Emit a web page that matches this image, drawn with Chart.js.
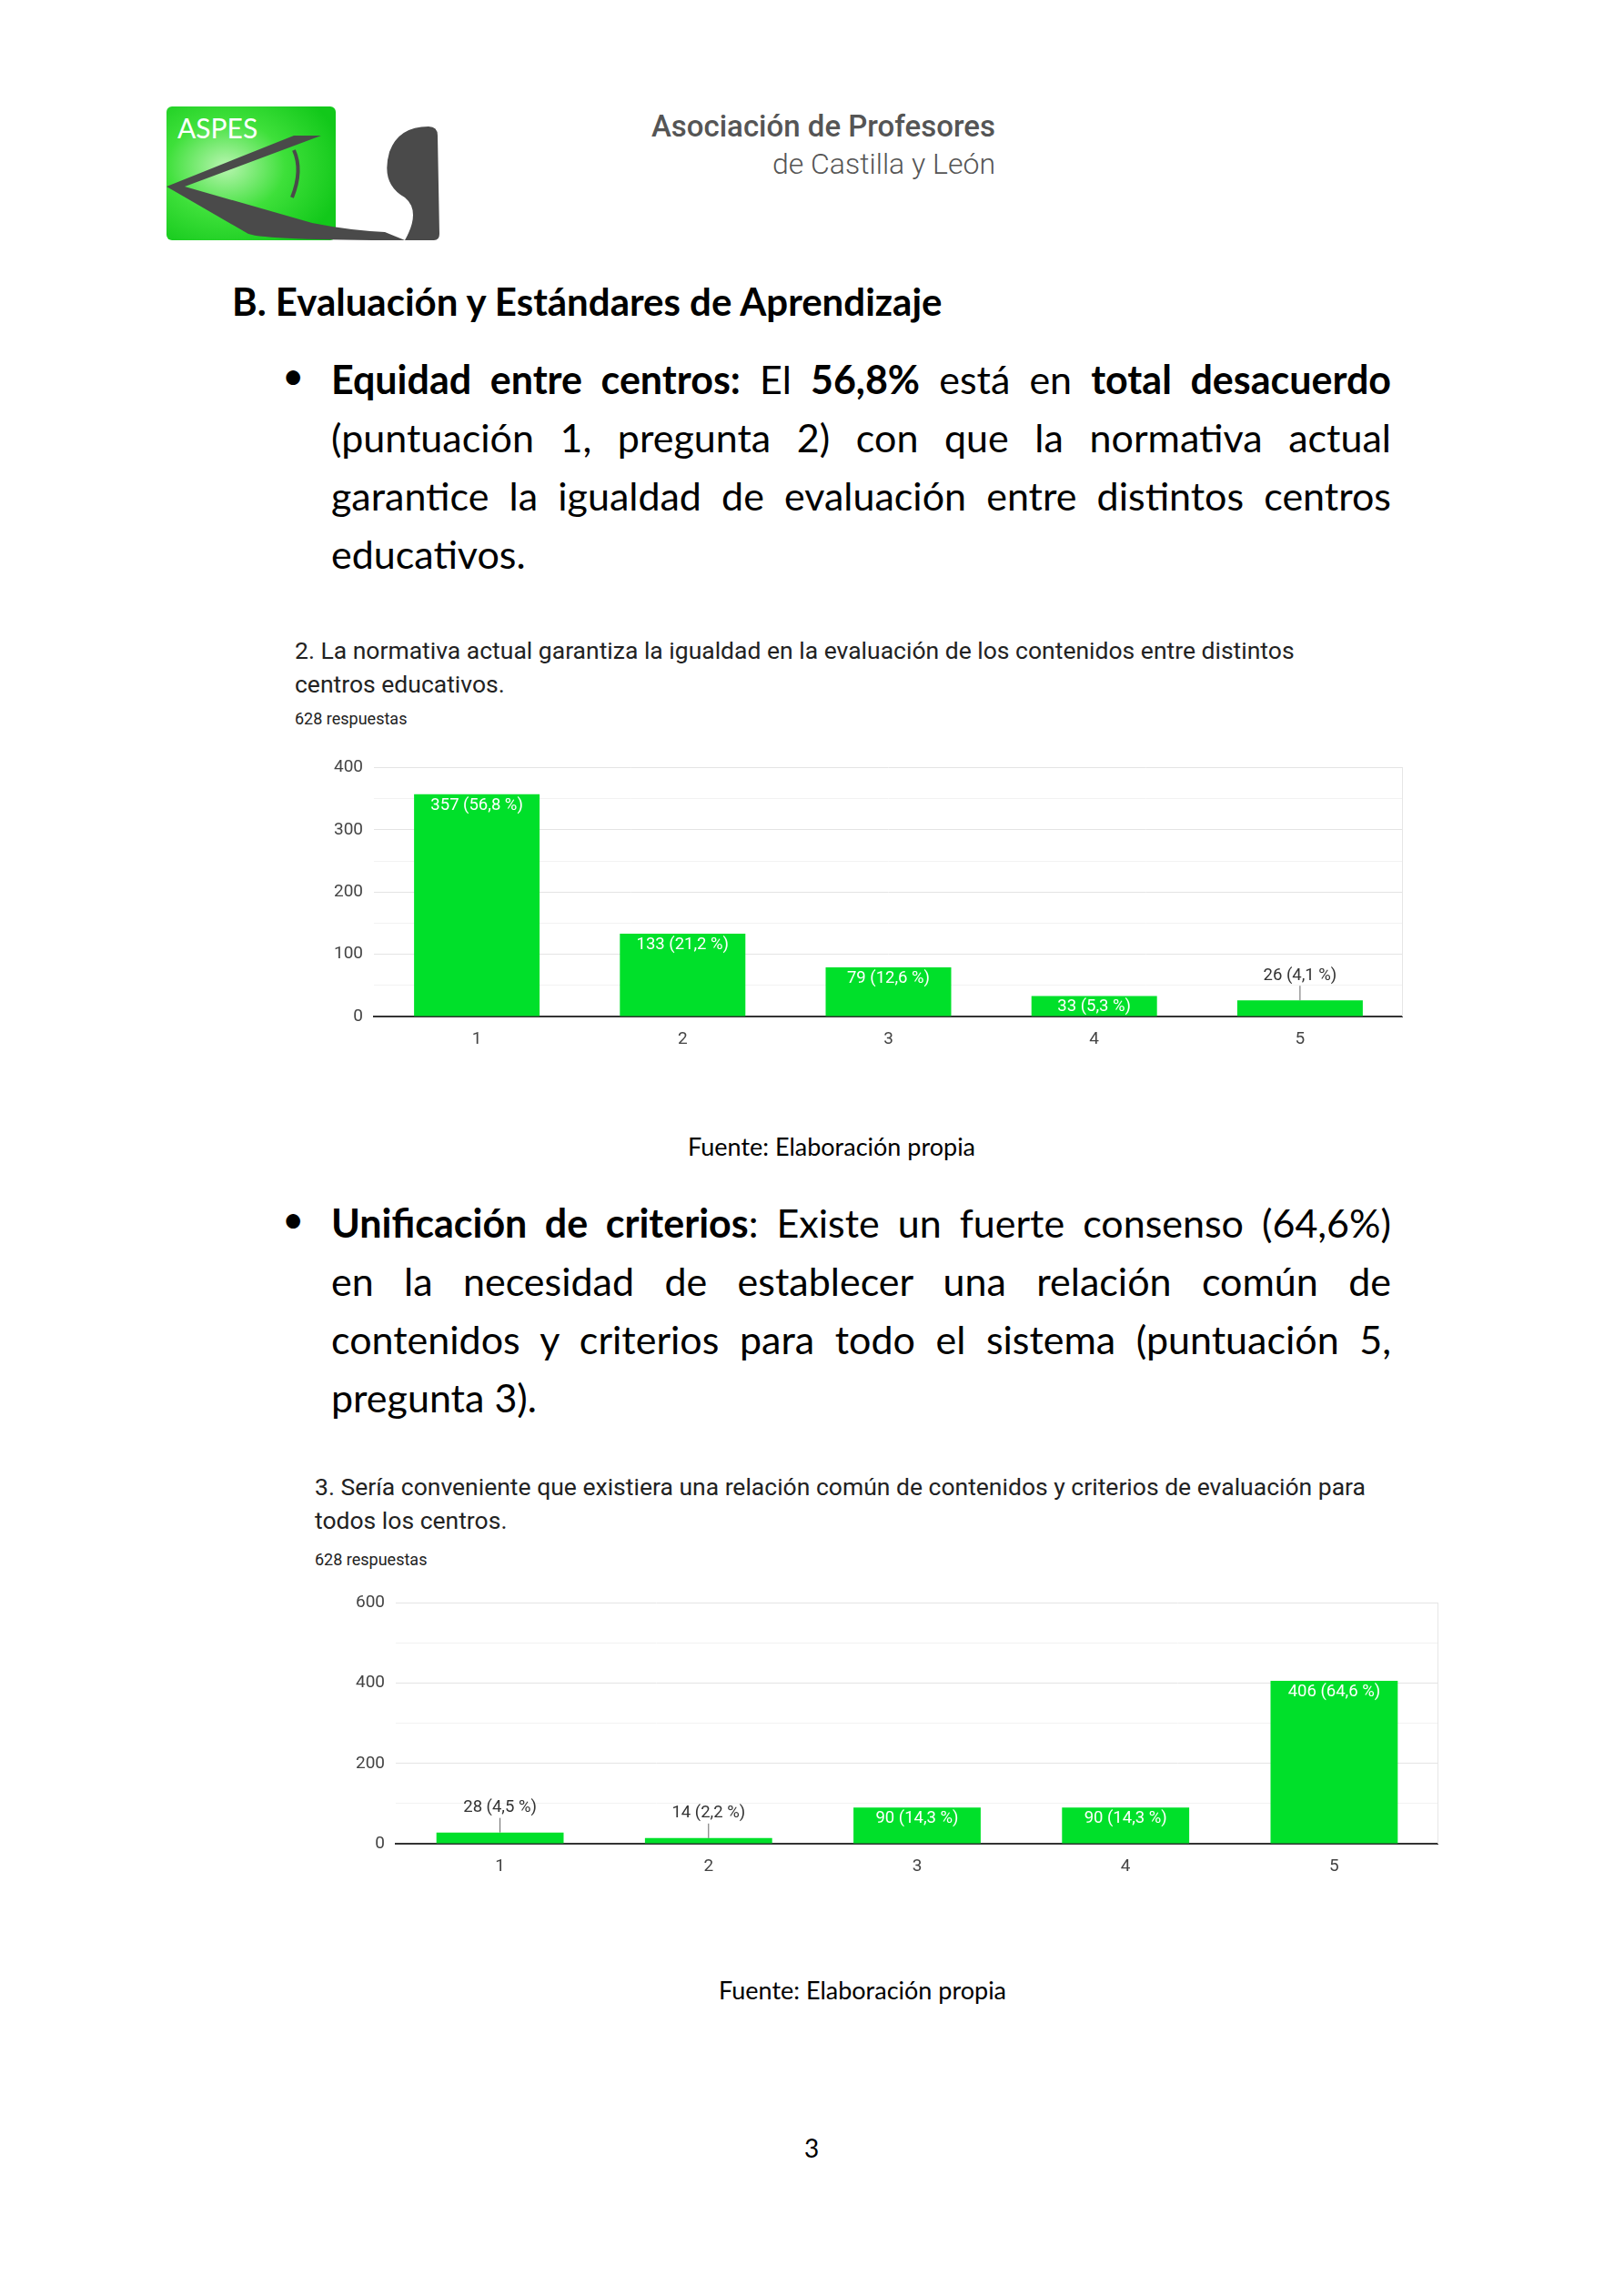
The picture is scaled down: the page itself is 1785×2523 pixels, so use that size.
<!DOCTYPE html>
<html><head><meta charset="utf-8">
<script src="https://cdn.jsdelivr.net/npm/chart.js@4"></script>
<style>
body{margin:0;width:1785px;height:2523px;background:#fff;position:relative;font-family:Lato,"Open Sans",sans-serif;color:#000}
.abs{position:absolute}
.hd{font-family:Roboto,sans-serif;color:#555;text-align:right;right:691px}
.bul{left:364px;width:1165px;font-size:43px;line-height:64px;text-align:justify}
.bul span{display:block;text-align-last:justify}
.bul span.last{text-align-last:left}
.dot{left:310px;font-size:42px}
.ct{font-family:Roboto,sans-serif;color:#222;font-size:26.5px;line-height:37px}
.cs{font-family:Roboto,sans-serif;color:#222;font-size:18px}
.src{font-size:27px;width:600px;text-align:center}
</style></head><body>
<svg class="abs" style="left:183px;top:117px" width="302" height="147" viewBox="0 0 302 147">
<defs><radialGradient id="g" cx="0.35" cy="0.45" r="0.7"><stop offset="0" stop-color="#b8f5b0"/><stop offset="0.5" stop-color="#3ee03a"/><stop offset="1" stop-color="#12c81a"/></radialGradient></defs>
<rect x="0" y="0" width="186" height="147" rx="6" fill="url(#g)"/>
<path d="M298 32 Q298 22 288 22 Q255 22 245 50 Q235 85 262 100 Q280 115 262 147 L294 147 Q300 147 300 140 Z" fill="#4a4a4a"/>
<path d="M140 32 L0 88 L90 140 Q110 147 262 147 L240 138 Q200 136 160 128 L20 88 L170 32 Z" fill="#4a4a4a"/>
<path d="M140 48 Q150 70 138 100" stroke="#4a4a4a" stroke-width="4" fill="none"/>
<text x="12" y="35" font-family="Lato" font-size="30" fill="#fff">ASPES</text>
</svg>
<div class="abs hd" style="top:119px;font-size:33px;font-weight:500">Asociación de Profesores</div>
<div class="abs hd" style="top:161px;font-size:32px;font-weight:300">de Castilla y León</div>
<div class="abs" style="left:255px;top:306px;font-size:42px;font-weight:bold">B. Evaluación y Estándares de Aprendizaje</div>
<div class="abs dot" style="top:387px">•</div>
<div class="abs bul" style="top:385px"><span><b>Equidad entre centros:</b> El <b>56,8%</b> está en <b>total desacuerdo</b></span><span>(puntuación 1, pregunta 2) con que la normativa actual</span><span>garantice la igualdad de evaluación entre distintos centros</span><span class="last">educativos.</span></div>
<div class="abs ct" style="left:324px;top:696px">2. La normativa actual garantiza la igualdad en la evaluación de los contenidos entre distintos<br>centros educativos.</div>
<div class="abs cs" style="left:324px;top:779px">628 respuestas</div>
<div class="abs" style="left:341px;top:820px;width:1201px;height:337px"><canvas id="c1"></canvas></div>
<div class="abs src" style="left:614px;top:1243px">Fuente: Elaboración propia</div>
<div class="abs dot" style="top:1314px">•</div>
<div class="abs bul" style="top:1312px"><span><b>Unificación de criterios</b>: Existe un fuerte consenso (64,6%)</span><span>en la necesidad de establecer una relación común de</span><span>contenidos y criterios para todo el sistema (puntuación 5,</span><span class="last">pregunta 3).</span></div>
<div class="abs ct" style="left:346px;top:1615px">3. Sería conveniente que existiera una relación común de contenidos y criterios de evaluación para<br>todos los centros.</div>
<div class="abs cs" style="left:346px;top:1703px">628 respuestas</div>
<div class="abs" style="left:365px;top:1738px;width:1216px;height:328px"><canvas id="c2"></canvas></div>
<div class="abs src" style="left:648px;top:2170px">Fuente: Elaboración propia</div>
<div class="abs" style="left:884px;top:2343px;font-size:28px">3</div>
<script>
var categories = ['1','2','3','4','5'];
var q2Values = [357,133,79,33,26];
var q2Labels = ['357 (56,8 %)','133 (21,2 %)','79 (12,6 %)','33 (5,3 %)','26 (4,1 %)'];
var q3Values = [28,14,90,90,406];
var q3Labels = ['28 (4,5 %)','14 (2,2 %)','90 (14,3 %)','90 (14,3 %)','406 (64,6 %)'];

var labelPlugin = {
  id:'barLabels',
  afterDatasetsDraw:function(chart){
    var ctx = chart.ctx, meta = chart.getDatasetMeta(0), labels = chart.options.plugins.barLabels.labels;
    var area = chart.chartArea;
    ctx.save();
    ctx.font = '18.5px Roboto';
    ctx.textAlign = 'center';
    meta.data.forEach(function(bar, i){
      var h = bar.base - bar.y;
      if(h >= 20){
        ctx.fillStyle = '#fff'; ctx.textBaseline = 'top';
        ctx.fillText(labels[i], bar.x, bar.y + 3);
      } else {
        ctx.strokeStyle = '#666'; ctx.lineWidth = 1;
        ctx.beginPath(); ctx.moveTo(bar.x, bar.y); ctx.lineTo(bar.x, bar.y - 16); ctx.stroke();
        ctx.fillStyle = '#333'; ctx.textBaseline = 'bottom';
        ctx.fillText(labels[i], bar.x, bar.y - 18);
      }
    });
    ctx.strokeStyle = '#e6e6e6';
    ctx.beginPath(); ctx.moveTo(area.right - 0.5, area.top); ctx.lineTo(area.right - 0.5, area.bottom); ctx.stroke();
    ctx.restore();
  }
};

function makeChart(id, values, labels, max, step){
  new Chart(document.getElementById(id), {
    type:'bar',
    data:{ labels:categories, datasets:[{ data:values, backgroundColor:'#00e02a', categoryPercentage:1, barPercentage:0.61 }] },
    options:{
      responsive:true, maintainAspectRatio:false, animation:false,
      layout:{ padding:{ top:10, right:0 } },
      plugins:{ legend:{display:false}, tooltip:{enabled:false}, barLabels:{ labels:labels } },
      scales:{
        x:{ grid:{ display:false }, border:{ color:'#333', width:2 },
            ticks:{ color:'#444', font:{ size:19, family:'Roboto' }, padding:6 },
            afterFit:function(s){ s.height = 40; } },
        y:{ min:0, max:max, ticks:{ stepSize:step/2, color:'#444', font:{ size:19, family:'Roboto' }, padding:12,
              callback:function(v){ return v % step === 0 ? v : ''; } },
            grid:{ color:function(c){ return c.tick && c.tick.value % step === 0 ? '#e4e4e4' : '#f2f2f2'; }, drawTicks:false },
            border:{ display:false },
            afterFit:function(s){ s.width = 70; } }
      }
    },
    plugins:[labelPlugin]
  });
}
makeChart('c1', q2Values, q2Labels, 400, 100);
makeChart('c2', q3Values, q3Labels, 600, 200);
</script>
</body></html>
